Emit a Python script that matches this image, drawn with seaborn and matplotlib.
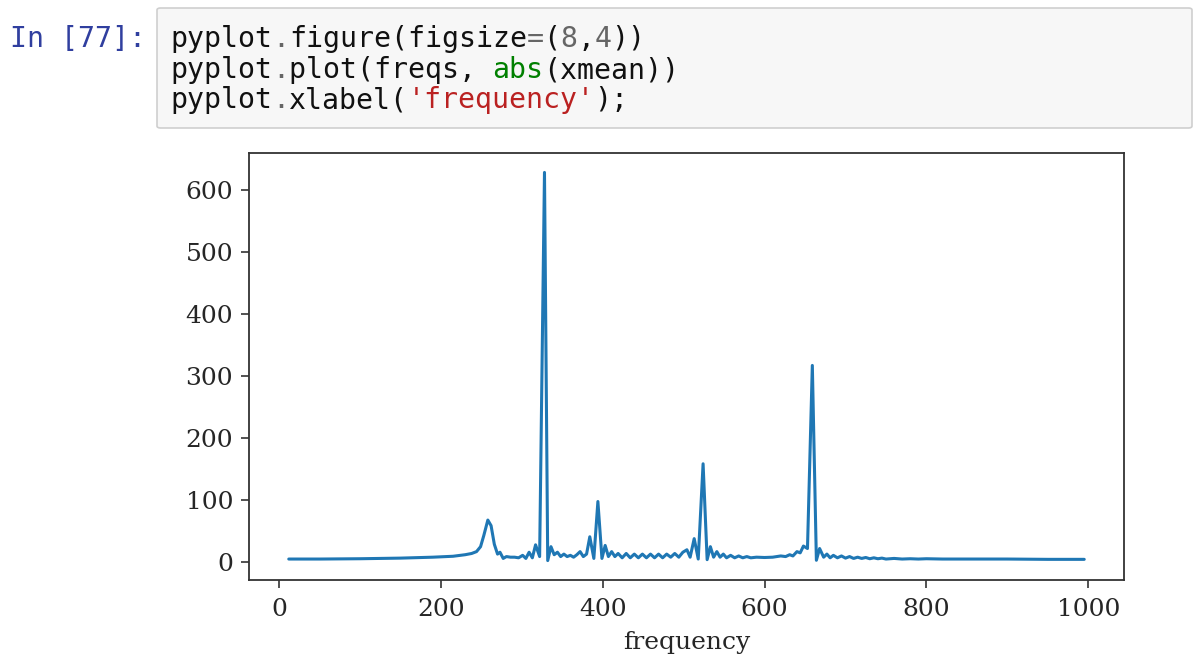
import numpy as np
import pandas as pd
import matplotlib
matplotlib.use('Agg')
import matplotlib.pyplot as plt
from matplotlib.patches import FancyBboxPatch
import seaborn as sns

# DATA --------------------------------
freqs = [12, 50, 100, 150, 190, 215, 230, 238, 244, 249,
         253, 258, 262, 266, 270, 273, 277, 281, 286, 291,
         296, 301, 305, 309, 313, 317, 322, 328, 332, 336,
         340, 344, 348, 352, 356, 360, 364, 368, 372, 376,
         380, 384, 389, 394, 399, 403, 407, 411, 415, 419,
         424, 429, 434, 439, 444, 449, 454, 459, 464, 469,
         474, 479, 484, 489, 494, 499, 504, 508, 513, 518,
         524, 529, 533, 537, 541, 545, 549, 553, 558, 563,
         568, 573, 578, 583, 590, 600, 610, 620, 626, 631,
         635, 640, 644, 648, 653, 659, 664, 668, 673, 677,
         681, 685, 690, 695, 700, 705, 710, 715, 720, 725,
         730, 735, 740, 745, 750, 760, 770, 780, 790, 800,
         820, 860, 900, 950, 995]
xmean_abs = [4, 4, 4.5, 5.5, 7, 8.5, 11, 13, 16, 24,
             42, 67, 58, 28, 12, 15, 5, 8, 7, 7,
             6, 10, 5, 15, 6, 27, 8, 629, 1.5, 24,
             11, 15, 8, 12, 8, 10, 7, 11, 16, 8,
             12, 40, 5, 97, 5, 26, 8, 16, 8, 13,
             6, 13, 6, 12, 6, 12, 6, 12, 6, 12,
             6, 12, 7, 13, 7, 15, 19, 7, 37, 4,
             158, 3, 24, 7, 16, 7, 12, 6, 10, 6,
             9, 6, 8, 6, 7, 6.5, 7, 9, 8, 11,
             9, 16, 14, 25, 21, 317, 2, 21, 7, 12,
             6, 10, 6, 9, 5.5, 8, 5, 7, 5, 6.5,
             4.5, 6, 4.5, 5.5, 4, 5, 4, 4.5, 4, 4.5,
             4, 4, 4, 3.5, 3.5]
xticks = [0, 200, 400, 600, 800, 1000]
yticks = [0, 100, 200, 300, 400, 500, 600]
xlabel = 'frequency'

# notebook cell text, split in coloured pieces
prompt = 'In [77]:'
code_lines = [
    [('pyplot', 'k'), ('.', 'op'), ('figure(figsize', 'k'), ('=', 'op'), ('(', 'k'),
     ('8', 'op'), (',', 'k'), ('4', 'op'), ('))', 'k')],
    [('pyplot', 'k'), ('.', 'op'), ('plot(freqs, ', 'k'), ('abs', 'builtin'), ('(xmean))', 'k')],
    [('pyplot', 'k'), ('.', 'op'), ('xlabel(', 'k'), ("'frequency'", 'string'), (');', 'k')],
]
code_colors = {'k': '#111111', 'op': '#666666', 'builtin': '#008000', 'string': '#ba2121'}
#--------------------------------------

W, H = 1200, 667
fig = plt.figure(figsize=(W / 100, H / 100), dpi=100)
fig.patch.set_facecolor('white')


def px(x, y):
    # pixel position from top-left -> figure fraction
    return x / W, 1 - y / H


# code cell box
bx0, by0 = px(157, 128)
bx1, by1 = px(1192, 8)
box = FancyBboxPatch((bx0, by0), bx1 - bx0, by1 - by0,
                     boxstyle='round,pad=0,rounding_size=0.003',
                     transform=fig.transFigure, facecolor='#f7f7f7',
                     edgecolor='#cfcfcf', linewidth=1.2)
fig.patches.append(box)

mono_size = 20.3
char_w = 0.6021 * mono_size * 100 / 72
fig.text(*px(10, 47), prompt, family='DejaVu Sans Mono', fontsize=mono_size,
         color='#303f9f', va='baseline', ha='left')
baselines = [47, 78, 108]
for line, base in zip(code_lines, baselines):
    col = 0
    for txt, kind in line:
        fig.text(*px(170 + col * char_w, base), txt, family='DejaVu Sans Mono',
                 fontsize=mono_size, color=code_colors[kind], va='baseline', ha='left')
        col += len(txt)

# spectrum plot
sns.set_style('ticks')
ax = fig.add_axes([249 / W, 1 - 580 / H, 875 / W, 427 / H])
df = pd.DataFrame({'freq': freqs, 'amp': xmean_abs})
sns.lineplot(data=df, x='freq', y='amp', ax=ax, color='#1f77b4', linewidth=2.2)

ax.set_xticks(xticks)
ax.set_yticks(yticks)
ax.set_xticklabels([str(t) for t in xticks], family='DejaVu Serif', fontsize=18, color='#262626')
ax.set_yticklabels([str(t) for t in yticks], family='DejaVu Serif', fontsize=18, color='#262626')
ax.set_xlabel(xlabel, family='DejaVu Serif', fontsize=18, color='#262626', labelpad=7)
ax.set_ylabel('')
ax.tick_params(direction='out', length=6, width=1.2, color='#333333', pad=5.5)
ax.tick_params(axis='x', pad=7)
for s in ax.spines.values():
    s.set_visible(True)
    s.set_color('#333333')
    s.set_linewidth(1.3)
ax.set_facecolor('white')
ax.grid(False)

fig.savefig('out.png', dpi=100, facecolor='white')
